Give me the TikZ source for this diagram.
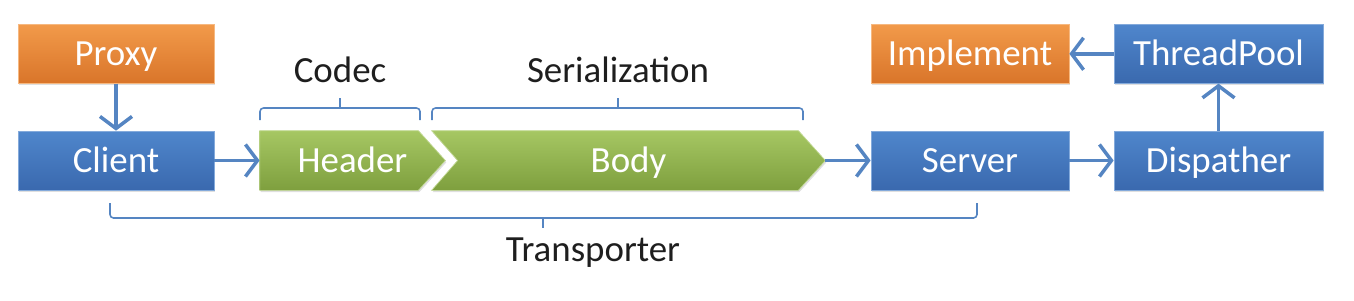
\documentclass[tikz,border=0pt]{standalone}
\usepackage{fontspec}
\setmainfont{Carlito}
\usepackage{tikz}
\usetikzlibrary{arrows.meta,positioning,calc,backgrounds,shadows}

\definecolor{orangetop}{HTML}{F29A4A}
\definecolor{orangebot}{HTML}{D9752A}
\definecolor{bluetop}{HTML}{4F86CC}
\definecolor{bluebot}{HTML}{3A69AE}
\definecolor{greentop}{HTML}{A6C763}
\definecolor{greenbot}{HTML}{7E9F3E}
\definecolor{linkblue}{HTML}{5585C2}
\definecolor{labelgray}{HTML}{1E1E1E}

\begin{document}
\begin{tikzpicture}[
  box/.style={rectangle, minimum height=1.18cm, inner sep=0pt, text=white,
              text height=13.5pt, text depth=0pt, font=\fontsize{21}{24}\selectfont},
  bluebox/.style={box, top color=bluetop, bottom color=bluebot, draw=bluetop!70!white,
              drop shadow={opacity=0.25, shadow xshift=0.6pt, shadow yshift=-1pt}},
  orangebox/.style={box, top color=orangetop, bottom color=orangebot, draw=orangetop!70!white,
              drop shadow={opacity=0.25, shadow xshift=0.6pt, shadow yshift=-1pt}},
  chevron/.style={top color=greentop, bottom color=greenbot, draw=greentop!70!white,
              drop shadow={opacity=0.25, shadow xshift=0.6pt, shadow yshift=-1pt}},
  label/.style={text=labelgray, font=\fontsize{21}{24}\selectfont},
  arrow/.style={-{Straight Barb[length=2.4mm, width=6.4mm, line width=2pt]}, line width=2.1pt, draw=linkblue},
  bracket/.style={draw=linkblue, line width=0.9pt, rounded corners=2pt}
]
\useasboundingbox (0,0) rectangle (27.08,-6);

% bottom row
\node[bluebox, minimum width=3.92cm] (client) at (2.32,-3.21) {Client};
\node[box, minimum width=3.7cm] (header) at (7.05,-3.21) {Header};
\node[box, minimum width=7.86cm] (body) at (12.57,-3.21) {Body};
\node[bluebox, minimum width=3.96cm] (server) at (19.4,-3.21) {Server};
\node[bluebox, minimum width=4.18cm] (dispather) at (24.37,-3.21) {Dispather};

% top row
\node[orangebox, minimum width=3.92cm, above=0.94cm of client] (proxy) {Proxy};
\node[orangebox, minimum width=3.96cm, above=0.94cm of server] (impl) {Implement};
\node[bluebox, minimum width=4.18cm, above=0.94cm of dispather] (pool) {ThreadPool};

% chevrons behind the texts
\begin{scope}[on background layer]
\path[chevron] (header.north west) -- ($(header.north east)+(-0.54,0)$) -- (header.east)
  -- ($(header.south east)+(-0.54,0)$) -- (header.south west) -- cycle;
\path[chevron] (body.north west) -- ($(body.north east)+(-0.54,0)$) -- (body.east)
  -- ($(body.south east)+(-0.54,0)$) -- (body.south west) -- ($(body.west)+(0.52,0)$) -- cycle;
\end{scope}

\draw[arrow] (proxy) -- (client);
\draw[arrow] (client) -- (header);
\draw[arrow] (body) -- (server);
\draw[arrow] (server) -- (dispather);
\draw[arrow] (dispather) -- (pool);
\draw[arrow] (pool) -- (impl);

% brackets
\draw[bracket] (5.2,-2.4) -- (5.2,-2.16) -- (8.4,-2.16) -- (8.4,-2.4);
\draw[bracket] (6.8,-2.16) -- (6.8,-1.96);
\draw[bracket] (8.64,-2.4) -- (8.64,-2.16) -- (16.06,-2.16) -- (16.06,-2.4);
\draw[bracket] (12.36,-2.16) -- (12.36,-1.96);
\draw[bracket] (2.2,-4.06) -- (2.2,-4.36) -- (19.54,-4.36) -- (19.54,-4.06);
\draw[bracket] (10.86,-4.36) -- (10.86,-4.56);

\node[label] (codec) at (6.8,-1.4) {Codec};
\node[label] (serial) at (12.36,-1.4) {Serialization};
\node[label] (transport) at (11.86,-5.06) {Transporter};
\end{tikzpicture}
\end{document}
